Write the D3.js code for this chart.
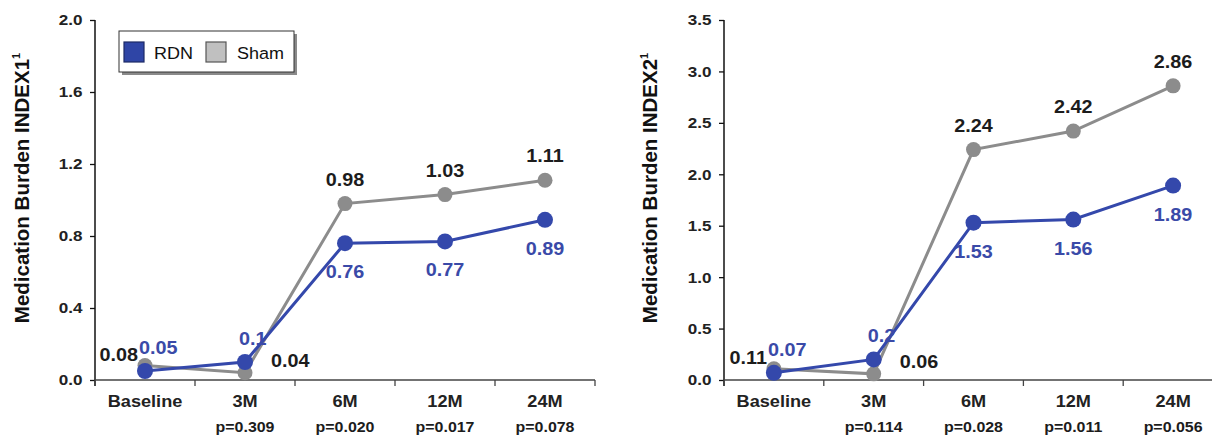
<!DOCTYPE html>
<html>
<head>
<meta charset="utf-8">
<script src="https://cdn.jsdelivr.net/npm/d3@7"></script>
<style>
  html, body { margin: 0; padding: 0; background: #fff; }
  svg { display: block; font-family: "Liberation Sans", Arial, sans-serif; }
</style>
</head>
<body>
<svg id="chart" width="1212" height="438"></svg>
<script>
// ---- data ----
const categories = ["Baseline", "3M", "6M", "12M", "24M"];
const rdn1  = [0.05, 0.1, 0.76, 0.77, 0.89];
const sham1 = [0.08, 0.04, 0.98, 1.03, 1.11];
const rdn2  = [0.07, 0.2, 1.53, 1.56, 1.89];
const sham2 = [0.11, 0.06, 2.24, 2.42, 2.86];
const pvals1 = ["", "p=0.309", "p=0.020", "p=0.017", "p=0.078"];
const pvals2 = ["", "p=0.114", "p=0.028", "p=0.011", "p=0.056"];
const yTicks1 = [0, 0.4, 0.8, 1.2, 1.6, 2.0];
const yTicks2 = [0, 0.5, 1.0, 1.5, 2.0, 2.5, 3.0, 3.5];
const yMax1 = 2.0, yMax2 = 3.5;
const title1 = "Medication Burden INDEX1";
const title2 = "Medication Burden INDEX2";
const seriesNames = ["RDN", "Sham"];

// ---- style ----
const BLUE = "#3448ab", BLUE_TXT = "#3a4aa8", GRAY = "#8c8c8c", TXT = "#1c1c1c";
const SX = 1.1; // horizontal stretch of the original picture

const svg = d3.select("#chart");

function stretchedText(g, x, y, str, size, anchor, color, weight, sx) {
  return g.append("text")
    .attr("transform", `translate(${x},${y}) scale(${sx || SX},1)`)
    .attr("text-anchor", anchor)
    .attr("font-size", size)
    .attr("font-weight", weight || "bold")
    .attr("fill", color)
    .text(str);
}

function drawChart(opts) {
  const { left, right, top, bottom, rdn, sham, pvals, yTicks, yMax, title, titleX } = opts;
  const g = svg.append("g");
  const x = d3.scaleBand().domain(categories).range([left, right]).padding(0);
  const y = d3.scaleLinear().domain([0, yMax]).range([bottom, top]);
  const cx = c => x(c) + x.bandwidth() / 2;

  // y axis
  const yAxis = g.append("g").attr("transform", `translate(${left},0)`)
    .call(d3.axisLeft(y).tickValues(yTicks).tickFormat(d3.format(".1f")).tickSize(5).tickPadding(6.5));
  yAxis.select(".domain").attr("stroke", "#111").attr("stroke-width", 1.5).attr("d", `M0,${top}V${bottom + 6}`);
  yAxis.selectAll(".tick line").attr("stroke", "#111").attr("stroke-width", 1.3);
  yAxis.selectAll(".tick text")
    .attr("font-size", 15.5).attr("font-weight", "bold").attr("fill", "#222")
    .attr("font-family", "Liberation Sans, Arial, sans-serif")
    .attr("transform", `scale(${SX},1)`);

  // x axis (labels)
  const xAxis = g.append("g").attr("transform", `translate(0,${bottom})`)
    .call(d3.axisBottom(x).tickSize(0).tickPadding(15));
  xAxis.select(".domain").attr("stroke", "#444").attr("stroke-width", 1.5).attr("d", `M${left},0H${right}`);
  xAxis.selectAll(".tick text")
    .attr("font-size", 16.5).attr("font-weight", "bold").attr("fill", "#222")
    .attr("font-family", "Liberation Sans, Arial, sans-serif")
    .attr("transform", `scale(${SX},1)`)
    .attr("x", 0);
  // boundary ticks between bands
  const bounds = categories.map(c => x(c)).concat([right]);
  g.append("g").selectAll("line").data(bounds).join("line")
    .attr("x1", d => d).attr("x2", d => d)
    .attr("y1", bottom).attr("y2", bottom + 6)
    .attr("stroke", "#444").attr("stroke-width", 1.3);

  // p-values
  categories.forEach((c, i) => {
    if (pvals[i]) stretchedText(g, cx(c), bottom + 52, pvals[i], 14.5, "middle", TXT);
  });

  // y title
  const t = g.append("text")
    .attr("transform", `translate(${titleX},${(top + bottom) / 2 - 12}) rotate(-90)`)
    .attr("text-anchor", "middle")
    .attr("font-size", 20.5).attr("font-weight", "bold").attr("fill", "#111");
  t.append("tspan").text(title);
  t.append("tspan").attr("font-size", 11).attr("dy", -9).text("1");

  const line = d3.line().x((d, i) => cx(categories[i])).y(d => y(d));

  // sham series
  g.append("path").datum(sham).attr("d", line).attr("fill", "none")
    .attr("stroke", GRAY).attr("stroke-width", 3);
  g.append("g").selectAll("circle").data(sham).join("circle")
    .attr("cx", (d, i) => cx(categories[i])).attr("cy", d => y(d)).attr("r", 7.5).attr("fill", GRAY);

  // rdn series
  g.append("path").datum(rdn).attr("d", line).attr("fill", "none")
    .attr("stroke", BLUE).attr("stroke-width", 3);
  g.append("g").selectAll("circle").data(rdn).join("circle")
    .attr("cx", (d, i) => cx(categories[i])).attr("cy", d => y(d)).attr("r", 8).attr("fill", BLUE);

  // labels
  sham.forEach((v, i) => {
    const px = cx(categories[i]), py = y(v);
    if (i === 0) stretchedText(g, px - 7, py - 5, String(v), 18, "end", TXT);
    else if (i === 1) stretchedText(g, px + 26, py - 6, String(v), 18, "start", TXT);
    else stretchedText(g, px, py - 18, String(v), 18, "middle", TXT);
  });
  rdn.forEach((v, i) => {
    const px = cx(categories[i]), py = y(v);
    if (i < 2) stretchedText(g, px - 6, py - 17, String(v), 18, "start", BLUE_TXT);
    else stretchedText(g, px, py + 35, String(v), 18, "middle", BLUE_TXT);
  });
  return g;
}

drawChart({ left: 95, right: 595, top: 20, bottom: 380, rdn: rdn1, sham: sham1,
  pvals: pvals1, yTicks: yTicks1, yMax: yMax1, title: title1, titleX: 28.5 });
drawChart({ left: 724, right: 1223, top: 20, bottom: 380, rdn: rdn2, sham: sham2,
  pvals: pvals2, yTicks: yTicks2, yMax: yMax2, title: title2, titleX: 657 });

// legend
const lg = svg.append("g").attr("transform", "translate(119,31)");
lg.append("rect").attr("x", 3).attr("y", 3).attr("width", 175).attr("height", 41).attr("fill", "#8a8a8a");
lg.append("rect").attr("x", 0).attr("y", 0).attr("width", 175).attr("height", 41)
  .attr("fill", "#fff").attr("stroke", "#333").attr("stroke-width", 1);
const swatchFill = ["#2f45a6", "#c0c0c0"], swatchStroke = ["#1d2a66", "#555"];
const swatchX = [5, 87], textX = [35, 118];
seriesNames.forEach((n, i) => {
  lg.append("rect").attr("x", swatchX[i]).attr("y", 11).attr("width", 20).attr("height", 20)
    .attr("fill", swatchFill[i]).attr("stroke", swatchStroke[i]).attr("stroke-width", 1.2);
  stretchedText(lg, textX[i], 28, n, 17, "start", "#111", "normal", 1.06);
});
</script>
</body>
</html>
